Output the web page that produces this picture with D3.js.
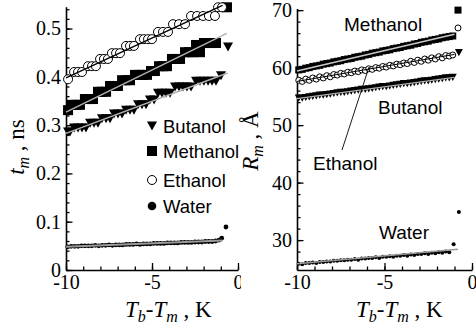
<!DOCTYPE html>
<html><head><meta charset="utf-8">
<script src="https://cdn.jsdelivr.net/npm/d3@7"></script>
<style>body{margin:0;background:#fff} svg{display:block}</style>
</head><body>
<svg id="c" width="476" height="333"></svg>
<script>
// ---------------- DATA ----------------
// x axis: Tb - Tm (K)
const xTicks = [-10, -5, 0];
const xTickLabels = ["-10", "-5", "0"];
const leftYTicks = [0, 0.1, 0.2, 0.3, 0.4, 0.5];
const leftYTickLabels = ["0", "0.1", "0.2", "0.3", "0.4", "0.5"];
const rightYTicks = [30, 40, 50, 60, 70];
const rightYTickLabels = ["30", "40", "50", "60", "70"];
const series = ["Butanol", "Methanol", "Ethanol", "Water"];

// Left panel: t_m (ns)
const leftEthanolT = [-9.88,-9.53,-9.30,-9.07,-8.72,-8.49,-8.26,-8.02,-7.79,-7.56,-7.33,-7.09,-6.86,-6.51,-6.28,-6.05,-5.70,-5.47,-5.23,-5.00,-4.65,-4.36,-4.07,-3.78,-3.43,-3.08,-2.73,-2.38,-2.03,-1.69,-1.34,-1.16,-0.93];
const leftEthanolV = [0.395,0.410,0.410,0.410,0.422,0.422,0.422,0.437,0.437,0.437,0.449,0.449,0.449,0.464,0.464,0.464,0.478,0.478,0.478,0.478,0.493,0.493,0.493,0.509,0.509,0.509,0.526,0.526,0.526,0.526,0.526,0.544,0.544];

const leftMethanolT = [-9.88,-9.65,-9.42,-9.19,-8.90,-8.66,-8.43,-8.14,-7.91,-7.67,-7.44,-7.21,-6.98,-6.74,-6.51,-6.28,-5.99,-5.76,-5.52,-5.29,-5.06,-4.83,-4.59,-4.36,-4.13,-3.84,-3.60,-3.37,-3.08,-2.85,-2.62,-2.44,-2.21,-1.98,-1.74,-1.51,-1.28,-0.64];
const leftMethanolV = [0.331,0.342,0.342,0.342,0.354,0.354,0.354,0.369,0.369,0.369,0.381,0.381,0.381,0.393,0.393,0.393,0.404,0.404,0.404,0.404,0.412,0.412,0.422,0.422,0.422,0.437,0.437,0.437,0.451,0.451,0.451,0.466,0.451,0.470,0.470,0.470,0.470,0.544];

const leftButanolT = [-9.88,-9.77,-9.53,-9.30,-9.07,-8.84,-8.60,-8.37,-8.14,-7.91,-7.67,-7.44,-7.21,-6.98,-6.74,-6.51,-6.28,-6.05,-5.81,-5.58,-5.35,-5.12,-4.88,-4.65,-4.42,-4.19,-3.95,-3.66,-3.43,-3.20,-2.97,-2.73,-2.44,-2.21,-1.98,-1.74,-1.51,-1.28,-0.99,-0.58];
const leftButanolV = [0.286,0.286,0.294,0.294,0.294,0.294,0.304,0.304,0.304,0.313,0.313,0.313,0.323,0.323,0.323,0.331,0.331,0.331,0.342,0.342,0.342,0.352,0.352,0.366,0.366,0.366,0.366,0.379,0.379,0.379,0.379,0.379,0.391,0.391,0.391,0.391,0.391,0.391,0.402,0.462];

// dense temperature grid shared by the water series and the right panel
const gridT = [-9.9,-9.7,-9.5,-9.3,-9.1,-8.9,-8.7,-8.5,-8.3,-8.1,-7.9,-7.7,-7.5,-7.3,-7.1,-6.9,-6.7,-6.5,-6.3,-6.1,-5.9,-5.7,-5.5,-5.3,-5.1,-4.9,-4.7,-4.5,-4.3,-4.1,-3.9,-3.7,-3.5,-3.3,-3.1,-2.9,-2.7,-2.5,-2.3,-2.1,-1.9,-1.7,-1.5,-1.3];

const leftWaterV = [0.048,0.049,0.049,0.049,0.050,0.050,0.050,0.050,0.051,0.050,
                    0.051,0.051,0.052,0.051,0.052,0.052,0.052,0.053,0.053,0.053,
                    0.054,0.053,0.054,0.054,0.054,0.055,0.055,0.055,0.055,0.056,
                    0.056,0.056,0.056,0.057,0.057,0.057,0.057,0.058,0.058,0.058,
                    0.059,0.059,0.059,0.060];
const leftWaterTailT = [-1.1, -0.95, -0.7];
const leftWaterTailV = [0.062, 0.066, 0.089];

// fit lines, left panel [[t0,v0],[t1,v1]]
const leftFitEthanol = [[-10, 0.398], [-0.9, 0.548]];
const leftFitMethanol = [[-10, 0.327], [-0.65, 0.490]];
const leftFitButanol = [[-10, 0.283], [-0.6, 0.408]];
const leftFitWater = [[-10, 0.048], [-0.9, 0.061]];

// Right panel: R_m (Å)
const rightMethanolV = [59.6,59.7,59.9,60.0,60.2,60.3,60.4,60.6,60.7,60.8,
                        61.0,61.1,61.2,61.4,61.5,61.6,61.8,61.9,62.0,62.2,
                        62.3,62.5,62.6,62.7,62.9,63.0,63.1,63.3,63.4,63.5,
                        63.7,63.8,63.9,64.1,64.2,64.4,64.5,64.6,64.8,64.9,
                        65.0,65.2,65.3,65.4];
const rightMethanolTailT = [-1.1, -0.8];
const rightMethanolTailV = [65.5, 70.0];

const rightEthanolV = [57.8,57.6,58.0,57.8,58.2,58.0,58.4,58.2,58.6,58.4,
                       58.8,58.7,59.0,58.9,59.2,59.1,59.4,59.3,59.6,59.5,
                       59.8,59.7,60.0,59.9,60.2,60.1,60.4,60.3,60.6,60.5,
                       60.8,60.7,61.1,60.9,61.3,61.1,61.5,61.3,61.7,61.5,
                       61.9,61.7,62.1,62.0];
const rightEthanolTailT = [-1.1, -0.8];
const rightEthanolTailV = [62.2, 66.9];

const rightButanolV = [54.7,54.7,54.8,54.9,55.0,55.1,55.2,55.2,55.3,55.4,
                       55.5,55.6,55.7,55.7,55.8,55.9,56.0,56.1,56.2,56.2,
                       56.3,56.4,56.5,56.6,56.7,56.7,56.8,56.9,57.0,57.1,
                       57.2,57.2,57.3,57.4,57.5,57.6,57.7,57.7,57.8,57.9,
                       58.0,58.1,58.2,58.2];
const rightButanolTailT = [-1.1, -0.75];
const rightButanolTailV = [58.3, 62.6];

const rightWaterV = [25.9,25.8,26.0,26.0,26.1,26.0,26.2,26.2,26.3,26.3,
                     26.4,26.4,26.5,26.5,26.6,26.6,26.7,26.6,26.8,26.8,
                     26.9,26.9,27.0,26.9,27.1,27.1,27.2,27.1,27.3,27.3,
                     27.4,27.3,27.5,27.4,27.6,27.6,27.7,27.6,27.8,27.7,
                     27.9,27.8,28.0,27.9];
const rightWaterTailT = [-1.05, -0.75];
const rightWaterTailV = [29.3, 34.9];

const rightFitMethanol = [[-10, 59.4], [-1, 65.8]];
const rightFitEthanol = [[-10, 57.6], [-1, 62.3]];
const rightFitButanol = [[-10, 54.6], [-1, 58.3]];
const rightFitWater = [[-10, 25.9], [-0.8, 28.4]];

// ---------------- DRAWING ----------------
const svg = d3.select('#c');
const SERIF = "'Liberation Serif','Times New Roman',serif";
const SANS = "'Liberation Sans',Arial,sans-serif";

const zip = (t, v) => t.map((d, i) => [d, v[i]]);

const xL = d3.scaleLinear().domain([-10, 0]).range([66, 238]);
const yL = d3.scaleLinear().domain([0, 0.545]).range([270, 6.8]);
const xR = d3.scaleLinear().domain([-10, 0]).range([297, 472]);
const yR = d3.scaleLinear().domain([24.8, 70.3]).range([270, 8.4]);

svg.append('defs').append('clipPath').attr('id', 'clipL')
  .append('rect').attr('x', 0).attr('y', 0).attr('width', 241).attr('height', 333);

const gL = svg.append('g').attr('clip-path', 'url(#clipL)');
const gR = svg.append('g');

function triPath(x, y, w, h) {
  return `M${x - w / 2},${y - h / 2}L${x + w / 2},${y - h / 2}L${x},${y + h / 2}Z`;
}

function drawMarkers(g, pts, type, size, xs, ys) {
  const sel = g.append('g');
  pts.forEach(([t, v]) => {
    const x = xs(t), y = ys(v);
    if (type === 'circle') {
      sel.append('circle').attr('cx', x).attr('cy', y).attr('r', size)
        .attr('fill', '#fff').attr('stroke', '#000').attr('stroke-width', 1);
    } else if (type === 'dot') {
      sel.append('circle').attr('cx', x).attr('cy', y).attr('r', size).attr('fill', '#000');
    } else if (type === 'square') {
      sel.append('rect').attr('x', x - size / 2).attr('y', y - size / 2)
        .attr('width', size).attr('height', size).attr('fill', '#000');
    } else if (type === 'tri') {
      sel.append('path').attr('d', triPath(x, y, size, size * 0.9)).attr('fill', '#000');
    }
  });
}

function drawFit(g, pts, color, width, xs, ys) {
  g.append('path').datum(pts)
    .attr('d', d3.line().x(d => xs(d[0])).y(d => ys(d[1])))
    .attr('fill', 'none').attr('stroke', color).attr('stroke-width', width);
}

function drawAxes(g, xs, ys, yTicks, yLabels, yMinorStep) {
  // x minor ticks
  const xMinor = d3.range(-10, 0.001, 1);
  g.append('g').attr('transform', `translate(0,${ys.range()[0]})`)
    .call(d3.axisBottom(xs).tickValues(xMinor).tickSizeInner(-3.5).tickSizeOuter(0).tickFormat(''))
    .call(a => a.select('.domain').remove())
    .selectAll('line').attr('stroke-width', 1.3);
  // x major
  const ax = g.append('g').attr('transform', `translate(0,${ys.range()[0]})`)
    .call(d3.axisBottom(xs).tickValues(xTicks).tickSizeInner(-7).tickSizeOuter(0).tickPadding(4)
      .tickFormat((d, i) => xTickLabels[i]));
  ax.select('.domain').attr('stroke-width', 1.6);
  ax.selectAll('line').attr('stroke-width', 1.3);
  ax.selectAll('text').attr('font-family', SERIF).attr('font-size', 20).attr('fill', '#000').attr('dy', '0.76em');
  // y minor
  const d0 = ys.domain();
  const yMinor = d3.range(Math.ceil(d0[0] / yMinorStep) * yMinorStep, d0[1], yMinorStep);
  g.append('g').attr('transform', `translate(${xs.range()[0]},0)`)
    .call(d3.axisLeft(ys).tickValues(yMinor).tickSizeInner(-3.5).tickSizeOuter(0).tickFormat(''))
    .call(a => a.select('.domain').remove())
    .selectAll('line').attr('stroke-width', 1.3);
  // y major
  const ay = g.append('g').attr('transform', `translate(${xs.range()[0]},0)`)
    .call(d3.axisLeft(ys).tickValues(yTicks).tickSizeInner(-6.5).tickSizeOuter(0).tickPadding(5)
      .tickFormat((d, i) => yLabels[i]));
  ay.select('.domain').attr('stroke-width', 1.6);
  ay.selectAll('line').attr('stroke-width', 1.3);
  ay.selectAll('text').attr('font-family', SERIF).attr('font-size', 20).attr('fill', '#000');
}

// ----- left panel -----
drawAxes(gL, xL, yL, leftYTicks, leftYTickLabels, 0.02);
drawMarkers(gL, zip(gridT, leftWaterV).concat(zip(leftWaterTailT, leftWaterTailV)), 'dot', 2.4, xL, yL);
drawMarkers(gL, zip(leftButanolT, leftButanolV), 'tri', 10, xL, yL);
drawMarkers(gL, zip(leftMethanolT, leftMethanolV), 'square', 10, xL, yL);
drawMarkers(gL, zip(leftEthanolT, leftEthanolV), 'circle', 4.5, xL, yL);
drawFit(gL, leftFitWater, '#9a9a9a', 2, xL, yL);
drawFit(gL, leftFitButanol, '#b0b0b0', 1.5, xL, yL);
drawFit(gL, leftFitMethanol, '#b0b0b0', 1.5, xL, yL);
drawFit(gL, leftFitEthanol, '#000', 1.3, xL, yL);

// legend
const legY = [126, 151, 180, 206];
const legTypes = ['tri', 'square', 'circle', 'dot'];
const legG = gL.append('g');
series.forEach((name, i) => {
  const x = 152, y = legY[i];
  if (legTypes[i] === 'tri') legG.append('path').attr('d', triPath(x, y, 10, 9)).attr('fill', '#000');
  if (legTypes[i] === 'square') legG.append('rect').attr('x', x - 5).attr('y', y - 5).attr('width', 10).attr('height', 10).attr('fill', '#000');
  if (legTypes[i] === 'circle') legG.append('circle').attr('cx', x).attr('cy', y).attr('r', 4.5).attr('fill', '#fff').attr('stroke', '#000');
  if (legTypes[i] === 'dot') legG.append('circle').attr('cx', x).attr('cy', y).attr('r', 4.3).attr('fill', '#000');
  legG.append('text').attr('x', 163).attr('y', y + 6.5).attr('font-family', SANS).attr('font-size', 18.5).text(name);
});

// ----- right panel -----
drawAxes(gR, xR, yR, rightYTicks, rightYTickLabels, 2);
drawMarkers(gR, zip(gridT, rightWaterV).concat(zip(rightWaterTailT, rightWaterTailV)), 'dot', 2, xR, yR);
drawMarkers(gR, zip(gridT, rightButanolV).concat(zip(rightButanolTailT, rightButanolTailV)), 'tri', 8, xR, yR);
drawMarkers(gR, zip(gridT, rightMethanolV).concat(zip(rightMethanolTailT, rightMethanolTailV)), 'square', 7, xR, yR);
drawMarkers(gR, zip(gridT, rightEthanolV).concat(zip(rightEthanolTailT, rightEthanolTailV)), 'circle', 3, xR, yR);
drawFit(gR, rightFitWater, '#9a9a9a', 1.5, xR, yR);
drawFit(gR, rightFitButanol, '#b0b0b0', 1.2, xR, yR);
drawFit(gR, rightFitMethanol, '#c8c8c8', 1.5, xR, yR);
drawFit(gR, rightFitEthanol, '#000', 1, xR, yR);

// annotations
const ann = [["Methanol", 344, 31], ["Butanol", 378, 114], ["Ethanol", 313, 170], ["Water", 379, 239]];
ann.forEach(([t, x, y]) => gR.append('text').attr('x', x).attr('y', y).attr('font-family', SANS).attr('font-size', 19).text(t));
gR.append('line').attr('x1', 342).attr('y1', 150).attr('x2', 369).attr('y2', 67).attr('stroke', '#000').attr('stroke-width', 0.9);

// ----- axis titles -----
function xTitle(g, x, y) {
  const t = g.append('text').attr('x', x).attr('y', y).attr('font-family', SERIF).attr('font-size', 23);
  t.append('tspan').attr('font-style', 'italic').text('T');
  t.append('tspan').attr('font-style', 'italic').attr('font-size', 16).attr('dy', 5).text('b');
  t.append('tspan').attr('dy', -5).text('-');
  t.append('tspan').attr('font-style', 'italic').text('T');
  t.append('tspan').attr('font-style', 'italic').attr('font-size', 16).attr('dy', 5).text('m');
  t.append('tspan').attr('dy', -5).text('\u00a0,\u00a0K');
}
xTitle(svg, 125, 317);
xTitle(svg, 356, 317);

function yTitle(x, y, sym, unit) {
  const t = svg.append('text').attr('transform', `translate(${x},${y}) rotate(-90)`)
    .attr('text-anchor', 'middle').attr('font-family', SERIF).attr('font-size', 23);
  t.append('tspan').attr('font-style', 'italic').text(sym);
  t.append('tspan').attr('font-style', 'italic').attr('font-size', 16).attr('dy', 5).text('m');
  t.append('tspan').attr('dy', -5).text('\u00a0,\u00a0' + unit);
}
yTitle(24, 147, 't', 'ns');
yTitle(258, 141, 'R', 'Å');
</script>
</body></html>
